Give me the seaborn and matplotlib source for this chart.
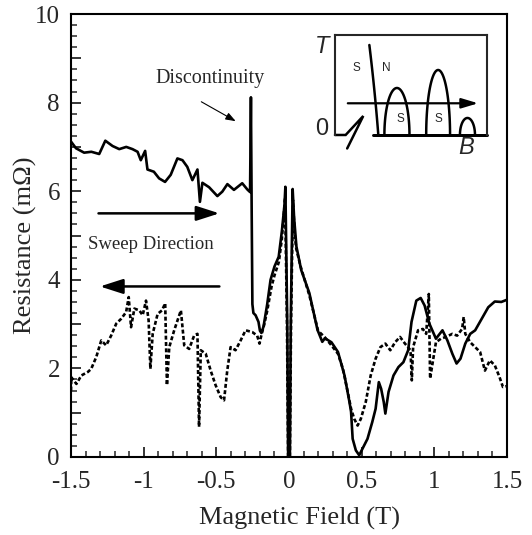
import numpy as np
import pandas as pd
import matplotlib
matplotlib.use("Agg")
import matplotlib.pyplot as plt
from matplotlib.ticker import MultipleLocator, FuncFormatter
import seaborn as sns

# ---------------- data ----------------
up_B = [-1.5, -1.466, -1.41, -1.36, -1.306, -1.264, -1.214, -1.168, -1.12, -1.077,
        -1.042, -1.02, -0.99, -0.974, -0.93, -0.894, -0.853, -0.814, -0.768, -0.733,
        -0.70, -0.665, -0.63, -0.613, -0.596, -0.55, -0.493, -0.459, -0.424, -0.379,
        -0.322, -0.287, -0.268, -0.262, -0.257, -0.252, -0.245, -0.23, -0.21, -0.2,
        -0.19, -0.175, -0.15, -0.127, -0.1, -0.071, -0.049, -0.031, -0.025, -0.012,
        -0.006, 0.006, 0.012, 0.025, 0.035, 0.051, 0.084, 0.14, 0.196, 0.229,
        0.247, 0.292, 0.337, 0.382, 0.416, 0.427, 0.438, 0.46, 0.483, 0.506,
        0.54, 0.573, 0.596, 0.618, 0.634, 0.652, 0.663, 0.685, 0.719, 0.753,
        0.787, 0.82, 0.843, 0.876, 0.906, 0.933, 0.966, 1.011, 1.056, 1.09,
        1.124, 1.153, 1.18, 1.213, 1.247, 1.281, 1.326, 1.371, 1.416, 1.461, 1.5]
up_R = [7.12, 6.97, 6.87, 6.89, 6.84, 7.14, 7.02, 6.95, 7.0, 6.95,
        6.89, 6.70, 6.91, 6.49, 6.44, 6.29, 6.21, 6.37, 6.74, 6.70,
        6.55, 6.25, 6.49, 5.76, 6.19, 6.09, 5.89, 5.99, 6.16, 6.03,
        6.18, 6.04, 5.98, 8.12, 5.6, 3.45, 3.25, 3.2, 3.05, 2.85,
        2.8, 2.95, 3.45, 4.0, 4.3, 4.52, 5.1, 5.7, 6.1, 3.0,
        0.0, 0.0, 3.0, 6.05, 5.4, 4.75, 4.22, 3.7, 2.87, 2.6,
        2.68, 2.59, 2.37, 1.84, 1.24, 1.02, 0.41, 0.15, 0.04, 0.19,
        0.41, 0.79, 1.09, 1.69, 1.54, 1.24, 0.98, 1.47, 1.84, 2.03,
        2.14, 2.41, 3.05, 3.53, 3.59, 3.42, 3.01, 2.67, 2.86, 2.63,
        2.33, 2.11, 2.22, 2.56, 2.78, 2.86, 3.12, 3.38, 3.51, 3.5, 3.55]

down_B = [-1.5, -1.498, -1.463, -1.429, -1.384, -1.361, -1.326, -1.292, -1.258, -1.224,
          -1.189, -1.155, -1.121, -1.103, -1.087, -1.064, -1.03, -1.007, -0.984, -0.966,
          -0.954, -0.938, -0.904, -0.874, -0.852, -0.84, -0.824, -0.79, -0.744, -0.721,
          -0.687, -0.653, -0.63, -0.619, -0.607, -0.573, -0.539, -0.505, -0.47, -0.447,
          -0.425, -0.402, -0.368, -0.333, -0.299, -0.253, -0.219, -0.203, -0.19, -0.17,
          -0.15, -0.12, -0.1, -0.07, -0.05, -0.035, -0.027, -0.014, -0.006, 0.006,
          0.014, 0.027, 0.04, 0.05, 0.08, 0.14, 0.2, 0.247, 0.292, 0.337,
          0.371, 0.404, 0.427, 0.449, 0.472, 0.494, 0.528, 0.562, 0.596, 0.629,
          0.663, 0.697, 0.73, 0.764, 0.798, 0.836, 0.845, 0.854, 0.888, 0.921,
          0.944, 0.962, 0.971, 0.989, 1.011, 1.045, 1.079, 1.124, 1.157, 1.191,
          1.202, 1.213, 1.247, 1.281, 1.315, 1.348, 1.382, 1.416, 1.449, 1.472, 1.5]
down_R = [1.5, 1.8, 1.65, 1.84, 1.92, 1.99, 2.26, 2.63, 2.52, 2.74,
          3.01, 3.12, 3.27, 3.61, 2.93, 3.35, 3.31, 3.2, 3.53, 3.08,
          1.99, 2.78, 3.23, 3.31, 3.47, 1.62, 2.48, 2.86, 3.31, 2.52,
          2.44, 2.74, 2.78, 0.68, 2.41, 2.33, 1.95, 1.62, 1.35, 1.28,
          1.95, 2.48, 2.41, 2.63, 2.86, 2.82, 2.74, 2.56, 2.75, 3.0,
          3.3, 3.85, 4.1, 4.4, 4.9, 5.5, 5.85, 3.0, 0.0, 0.0,
          3.0, 5.8, 5.0, 4.7, 4.3, 3.65, 2.85, 2.7, 2.52, 2.33,
          1.99, 1.47, 1.09, 0.86, 0.71, 0.86, 1.24, 1.84, 2.22, 2.48,
          2.56, 2.41, 2.59, 2.71, 2.56, 2.41, 1.73, 2.48, 2.86, 2.89,
          2.78, 3.68, 1.77, 2.14, 2.59, 2.67, 2.71, 2.78, 2.74, 2.89,
          3.16, 2.78, 2.59, 2.48, 2.37, 1.95, 2.18, 2.07, 1.8, 1.58, 1.6]

x_ticks = [-1.5, -1, -0.5, 0, 0.5, 1, 1.5]
y_ticks = [0, 2, 4, 6, 8, 10]

# ---------------- style ----------------
sns.set_style("ticks")
plt.rcParams["font.family"] = ["Liberation Serif", "DejaVu Serif"]
plt.rcParams["axes.unicode_minus"] = False

fig = plt.figure(figsize=(5.32, 5.35), dpi=100)
ax = fig.add_axes([0.1335, 0.1458, 0.8195, 0.828])

up = pd.DataFrame({"B": up_B, "R": up_R})
down = pd.DataFrame({"B": down_B, "R": down_R})
sns.lineplot(data=up, x="B", y="R", ax=ax, color="black", lw=1.9, sort=False, estimator=None)
sns.lineplot(data=down, x="B", y="R", ax=ax, color="black", lw=1.9, sort=False,
             estimator=None, linestyle=(0, (1.5, 0.9)))

ax.set_xlim(-1.5, 1.5)
ax.set_ylim(0, 10)
ax.xaxis.set_major_locator(MultipleLocator(0.5))
ax.xaxis.set_minor_locator(MultipleLocator(0.1))
ax.yaxis.set_major_locator(MultipleLocator(1))
ax.yaxis.set_minor_locator(MultipleLocator(0.25))
ax.xaxis.set_major_formatter(FuncFormatter(lambda v, p: f"{v:g}" if v in x_ticks else ""))
ax.yaxis.set_major_formatter(FuncFormatter(lambda v, p: f"{int(round(v))}" if int(round(v)) in y_ticks else ""))
ax.tick_params(axis="both", which="major", direction="in", length=7, width=1.3,
               labelsize=18, top=False, right=False)
ax.tick_params(axis="x", which="major", pad=10)
ax.tick_params(axis="y", which="major", pad=8)
ax.tick_params(axis="both", which="minor", direction="in", length=4, width=1.1,
               top=False, right=False)
for s in ax.spines.values():
    s.set_linewidth(1.5)
    s.set_color("black")
ax.set_xlabel("Magnetic Field (T)", fontsize=19, va="center")
ax.set_ylabel("Resistance (m\u03a9)", fontsize=19, va="center")
ax.xaxis.set_label_coords(0.525, -0.138)
ax.yaxis.set_label_coords(-0.105, 0.479)

# annotations
ax.text(-0.54, 8.55, "Discontinuity", fontsize=14.5, ha="center", va="center")
ax.annotate("", xy=(-0.35, 7.55), xytext=(-0.62, 8.05),
            arrowprops=dict(arrowstyle="-|>,head_length=0.6,head_width=0.22", lw=0.8, color="black"))
ax.text(-0.95, 4.8, "Sweep Direction", fontsize=13.5, ha="center", va="center")
ax.annotate("", xy=(-0.46, 5.5), xytext=(-1.33, 5.5),
            arrowprops=dict(arrowstyle="-|>,head_length=1.4,head_width=0.45", lw=1.8, color="black"))
ax.annotate("", xy=(-1.32, 3.85), xytext=(-0.46, 3.85),
            arrowprops=dict(arrowstyle="-|>,head_length=1.4,head_width=0.45", lw=1.8, color="black"))

# ---------------- inset phase diagram ----------------
ins = fig.add_axes([0.6297, 0.7477, 0.2857, 0.1869])
ins.set_xlim(0, 1)
ins.set_ylim(0, 1)
ins.set_xticks([])
ins.set_yticks([])
for k in ["top", "left", "right"]:
    ins.spines[k].set_linewidth(1.5)
ins.spines["bottom"].set_visible(False)
lw_in = 1.8
ins.plot([0, 0.07, 0.186, 0.08], [0, 0, 0.19, -0.135], color="black", lw=lw_in, clip_on=False,
         solid_joinstyle="miter")
ins.plot([0.25, 1.0], [0, 0], color="black", lw=lw_in * 1.2, clip_on=False)
t = np.linspace(0, 1, 40)
px = (1 - t) ** 2 * 0.226 + 2 * (1 - t) * t * 0.262 + t ** 2 * 0.285
py = (1 - t) ** 2 * 0.9 + 2 * (1 - t) * t * 0.45 + t ** 2 * 0.0
ins.plot(px, py, color="black", lw=lw_in)
domes = [(0.325, 0.49, 0.47), (0.60, 0.757, 0.65), (0.822, 0.921, 0.17)]
th = np.linspace(0, np.pi, 60)
for a, b, h in domes:
    c, w = (a + b) / 2, (b - a) / 2
    ins.plot(c + w * np.cos(th), h * np.sin(th), color="black", lw=lw_in)
ins.annotate("", xy=(0.96, 0.317), xytext=(0.066, 0.317),
             arrowprops=dict(arrowstyle="-|>,head_length=1.0,head_width=0.3", lw=1.6, color="black"))
sans = ["Liberation Sans", "DejaVu Sans"]
ins.text(0.143, 0.67, "S", fontsize=8.5, family=sans, ha="center", va="center")
ins.text(0.34, 0.67, "N", fontsize=8.5, family=sans, ha="center", va="center")
ins.text(0.428, 0.157, "S", fontsize=8.5, family=sans, ha="center", va="center")
ins.text(0.68, 0.157, "S", fontsize=8.5, family=sans, ha="center", va="center")
ins.text(-0.085, 0.88, "T", fontsize=17, family=sans, style="italic", ha="center", va="center")
ins.text(-0.085, 0.06, "0", fontsize=17, family=sans, ha="center", va="center")
ins.text(0.86, -0.13, "B", fontsize=17, family=sans, style="italic", ha="center", va="center")

fig.savefig("out.png", dpi=100, facecolor="white")
